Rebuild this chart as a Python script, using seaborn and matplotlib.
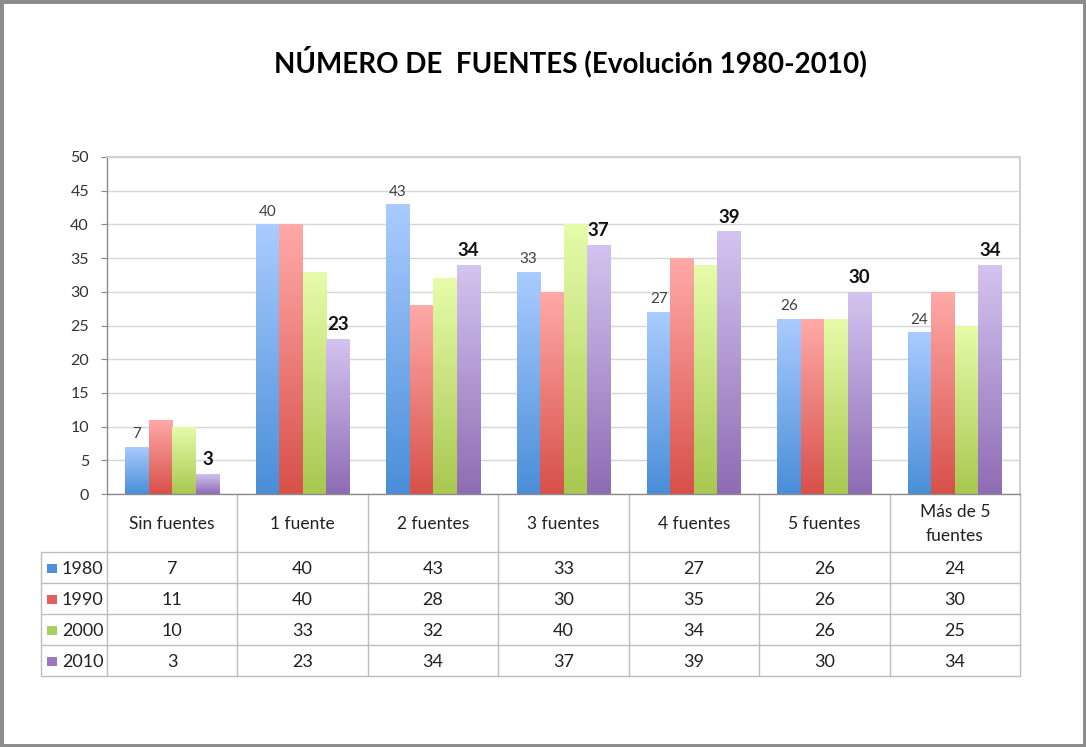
import numpy as np
import pandas as pd
import matplotlib
matplotlib.use("Agg")
import matplotlib.pyplot as plt
import seaborn as sns
from matplotlib.transforms import blended_transform_factory
from matplotlib.colors import LinearSegmentedColormap
from matplotlib.patches import Rectangle
from matplotlib.lines import Line2D

# ---------------- data ----------------
categories = ["Sin fuentes", "1 fuente", "2 fuentes", "3 fuentes",
              "4 fuentes", "5 fuentes", "Más de 5\nfuentes"]
years = ["1980", "1990", "2000", "2010"]
v1980 = [7, 40, 43, 33, 27, 26, 24]
v1990 = [11, 40, 28, 30, 35, 26, 30]
v2000 = [10, 33, 32, 40, 34, 26, 25]
v2010 = [3, 23, 34, 37, 39, 30, 34]
title = "NÚMERO DE  FUENTES (Evolución 1980-2010)"
yticks = [0, 5, 10, 15, 20, 25, 30, 35, 40, 45, 50]

series = [v1980, v1990, v2000, v2010]

# ---------------- style ----------------
sns.set_theme(style="white")
plt.rcParams['font.family'] = ['Lato', 'DejaVu Sans']

key_colors = ["#4f8fd8", "#e0605a", "#a8d060", "#9a78c0"]
grad_pairs = [("#4a8ed8", "#aaccff"),
              ("#d8504a", "#ffaaa8"),
              ("#a8c850", "#e6fcaa"),
              ("#8e6cb4", "#d4c4f0")]

df = pd.DataFrame({
    "cat": [c for _ in years for c in categories],
    "year": [y for y in years for _ in categories],
    "val": [v for s in series for v in s],
})

W, H = 1086, 747
fig = plt.figure(figsize=(W / 100, H / 100), dpi=100)
ax_l, ax_r, ax_t, ax_b = 107, 1020, 157, 494
ax = fig.add_axes([ax_l / W, 1 - ax_b / H, (ax_r - ax_l) / W, (ax_b - ax_t) / H])

sns.barplot(data=df, x="cat", y="val", hue="year", order=categories,
            hue_order=years, palette=key_colors, width=0.72, gap=0,
            saturation=1, legend=False, ax=ax, errorbar=None)

xlim = (-0.5, len(categories) - 0.5)

# gradient fill for bars
grad = np.linspace(0, 1, 256).reshape(-1, 1)
for i, cont in enumerate(ax.containers):
    cmap = LinearSegmentedColormap.from_list(f"g{i}", list(grad_pairs[i]))
    for bar in cont:
        x0, w, h = bar.get_x(), bar.get_width(), bar.get_height()
        im = ax.imshow(grad, cmap=cmap, extent=[x0, x0 + w, 0, h], origin="lower",
                       aspect="auto", interpolation="bilinear", zorder=2)
        im.set_clip_path(bar)
        bar.set_facecolor("none")
        bar.set_edgecolor("none")

ax.set_xlim(*xlim)
ax.set_ylim(0, 50)
ax.set_yticks(yticks)
ax.set_yticklabels([str(t) for t in yticks])
ax.set_xticks([])
ax.set_xlabel("")
ax.set_ylabel("")
ax.set_axisbelow(True)
ax.yaxis.grid(True, color="#d6d6d6", lw=1.0)
ax.tick_params(axis="y", length=4, width=0.8, color="#888888", pad=9,
               labelsize=11.5, labelcolor="#333333", left=True)
for s in ["left", "bottom"]:
    ax.spines[s].set_color("#8a8a8a")
    ax.spines[s].set_linewidth(1.0)
for s in ["top", "right"]:
    ax.spines[s].set_color("#cfcfcf")
    ax.spines[s].set_linewidth(1.4)

# data labels: 1980 regular, 2010 bold
for bar, v in zip(ax.containers[0], v1980):
    ax.annotate(str(v), (bar.get_x() + bar.get_width() / 2, bar.get_height()),
                xytext=(0, 4), textcoords="offset points", ha="center", va="bottom",
                fontsize=11, color="#404040")
for bar, v in zip(ax.containers[3], v2010):
    ax.annotate(str(v), (bar.get_x() + bar.get_width() / 2, bar.get_height()),
                xytext=(0, 4), textcoords="offset points", ha="center", va="bottom",
                fontsize=13.5, fontweight="bold", color="#111111")

# ---------------- data table ----------------
tr = blended_transform_factory(ax.transData, ax.transAxes)
axh = ax_b - ax_t
unit_px = (ax_r - ax_l) / len(categories)
def fy(py):
    return -(py - ax_b) / axh
left_x = xlim[0] - (ax_l - 41) / unit_px
line_c = "#bdbdbd"
row_lines = [552, 583, 614, 645, 676]
for py in row_lines:
    ax.add_line(Line2D([left_x, xlim[1]], [fy(py), fy(py)], transform=tr,
                       color=line_c, lw=1.0, clip_on=False))
for k in range(len(categories) + 1):
    xb = xlim[0] + k
    ax.add_line(Line2D([xb, xb], [0, fy(676)], transform=tr,
                       color=line_c, lw=1.0, clip_on=False))
ax.add_line(Line2D([left_x, left_x], [fy(552), fy(676)], transform=tr,
                   color=line_c, lw=1.0, clip_on=False))

for j, c in enumerate(categories):
    ax.text(j, fy(524), c, transform=tr, ha="center", va="center",
            fontsize=12.5, color="#222222", linespacing=1.55, clip_on=False)

row_centers = [569, 600, 631, 662]
for r, (yr, s) in enumerate(zip(years, series)):
    yc = fy(row_centers[r])
    ax.add_patch(Rectangle((left_x + 6 / unit_px, yc - 4 / axh), 10 / unit_px, 9 / axh,
                           transform=tr, facecolor=key_colors[r], edgecolor="none",
                           clip_on=False))
    ax.text(left_x + 21 / unit_px, yc, yr, transform=tr, ha="left", va="center",
            fontsize=13, color="#222222", clip_on=False)
    for j, v in enumerate(s):
        ax.text(j, yc, str(v), transform=tr, ha="center", va="center",
                fontsize=13, color="#222222", clip_on=False)

# ---------------- title & frame ----------------
fig.text(570 / W, 1 - 62 / H, title, ha="center", va="center",
         fontsize=20, fontweight="bold", color="#000000")
fig.patches.append(Rectangle((0, 0), 1, 1, transform=fig.transFigure, fill=False,
                             edgecolor="#8c8c8c", lw=5, zorder=10))

fig.savefig("out.png", dpi=100)
